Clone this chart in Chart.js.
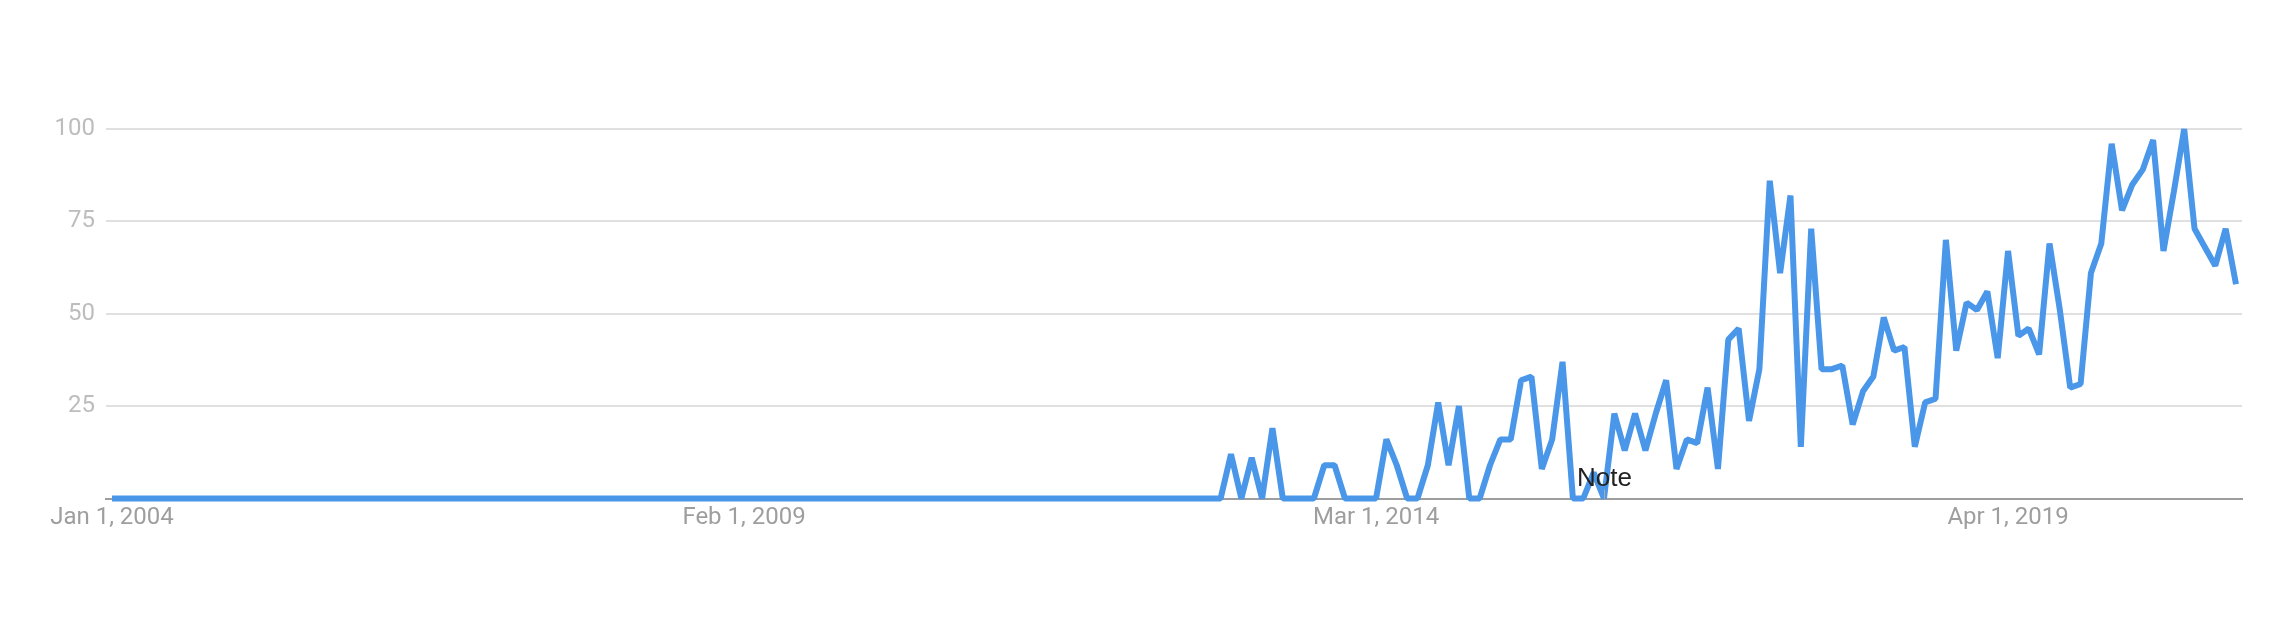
<!DOCTYPE html>
<html>
<head>
<meta charset="utf-8">
<script src="https://cdn.jsdelivr.net/npm/chart.js@4.4.1/dist/chart.umd.min.js"></script>
<style>
  html, body { margin: 0; padding: 0; background: #ffffff; }
  #wrap { width: 2294px; height: 626px; }
</style>
</head>
<body>
<div id="wrap"><canvas id="c" width="2294" height="626"></canvas></div>
<script>
// ---- data ----
const startYear = 2004;          // first month: Jan 2004
const monthCount = 206;          // Jan 2004 .. Feb 2021
const interest = [
  0,0,0,0,0,0,0,0,0,0,0,0, 0,0,0,0,0,0,0,0,0,0,0,0,
  0,0,0,0,0,0,0,0,0,0,0,0, 0,0,0,0,0,0,0,0,0,0,0,0,
  0,0,0,0,0,0,0,0,0,0,0,0, 0,0,0,0,0,0,0,0,0,0,0,0,
  0,0,0,0,0,0,0,0,0,0,0,0, 0,0,0,0,0,0,0,0,0,0,0,0,
  0,0,0,0,0,0,0,0,0,0,0,0,
  12,0,11,0,19,0,0,0,0,9,9,0,0,0,0,16,9,0,0,9,
  26,9,25,0,0,9,16,16,32,33,8,16,37,0,0,7,0,23,13,23,
  13,23,32,8,16,15,30,8,43,46,21,35,86,61,82,14,73,35,35,36,
  20,29,33,49,40,41,14,26,27,70,40,53,51,56,38,67,44,46,39,69,
  51,30,31,61,69,96,78,85,89,97,67,83,100,73,68,63,73,58
];
const tickIndices = [0, 61, 122, 183];
const tickLabels = ['Jan 1, 2004', 'Feb 1, 2009', 'Mar 1, 2014', 'Apr 1, 2019'];
const yTicks = [0, 25, 50, 75, 100];
const noteIndex = 144;
const noteText = 'Note';

const monthNames = ['Jan','Feb','Mar','Apr','May','Jun','Jul','Aug','Sep','Oct','Nov','Dec'];
const months = [];
for (let i = 0; i < monthCount; i++) {
  months.push(monthNames[i % 12] + ' ' + (startYear + Math.floor(i / 12)));
}

const points = interest.map((v, i) => ({ x: i, y: v }));

const notePlugin = {
  id: 'notePlugin',
  afterDatasetsDraw(chart) {
    const ctx = chart.ctx;
    const xs = chart.scales.x, ys = chart.scales.y;
    const px = Math.round(xs.getPixelForValue(noteIndex)) + 0.5;
    const py = ys.getPixelForValue(0);
    ctx.save();
    ctx.strokeStyle = '#aaaaaa';
    ctx.lineWidth = 1;
    ctx.beginPath();
    ctx.moveTo(px, py);
    ctx.lineTo(px, py - 9);
    ctx.stroke();
    ctx.fillStyle = '#222222';
    ctx.font = '26px "Liberation Sans", Arial, sans-serif';
    ctx.textAlign = 'center';
    ctx.textBaseline = 'alphabetic';
    ctx.fillText(noteText, px, py - 13);
    ctx.restore();
  }
};

new Chart(document.getElementById('c'), {
  type: 'line',
  data: {
    labels: months,
    datasets: [{
      label: 'Interest over time',
      data: points,
      borderColor: '#4a97ea',
      backgroundColor: '#4a97ea',
      borderWidth: 6,
      borderJoinStyle: 'bevel',
      borderCapStyle: 'butt',
      pointRadius: 0,
      tension: 0,
      fill: false,
      clip: false
    }]
  },
  options: {
    responsive: false,
    animation: false,
    devicePixelRatio: 1,
    layout: { padding: { top: 129, left: 0, right: 52, bottom: 0 } },
    plugins: { legend: { display: false }, tooltip: { enabled: false } },
    scales: {
      x: {
        type: 'linear',
        min: -0.58,
        max: monthCount - 1 + 0.58,
        afterBuildTicks: (s) => { s.ticks = tickIndices.map(v => ({ value: v })); },
        afterFit: (s) => { s.height = 127.5; },
        grid: { display: false, drawTicks: false },
        border: { display: true, color: '#9e9e9e', width: 2 },
        ticks: {
          autoSkip: false,
          maxRotation: 0,
          padding: 5,
          color: '#9e9e9e',
          font: { family: 'Roboto', size: 24 },
          callback: (v) => {
            const k = tickIndices.indexOf(v);
            return k >= 0 ? tickLabels[k] : '';
          }
        }
      },
      y: {
        min: 0,
        max: 100,
        afterBuildTicks: (s) => { s.ticks = yTicks.map(v => ({ value: v })); },
        afterFit: (s) => { s.width = 106; },
        border: { display: false },
        grid: {
          drawTicks: false,
          tickLength: 0,
          lineWidth: 2,
          color: (c) => (c.tick && c.tick.value === 0) ? '#9e9e9e' : '#e0e0e0'
        },
        ticks: {
          padding: 11,
          color: '#bdbdbd',
          font: { family: 'Roboto', size: 24 },
          callback: (v) => (v === 0 ? '' : String(v))
        }
      }
    }
  },
  plugins: [notePlugin]
});
</script>
</body>
</html>
